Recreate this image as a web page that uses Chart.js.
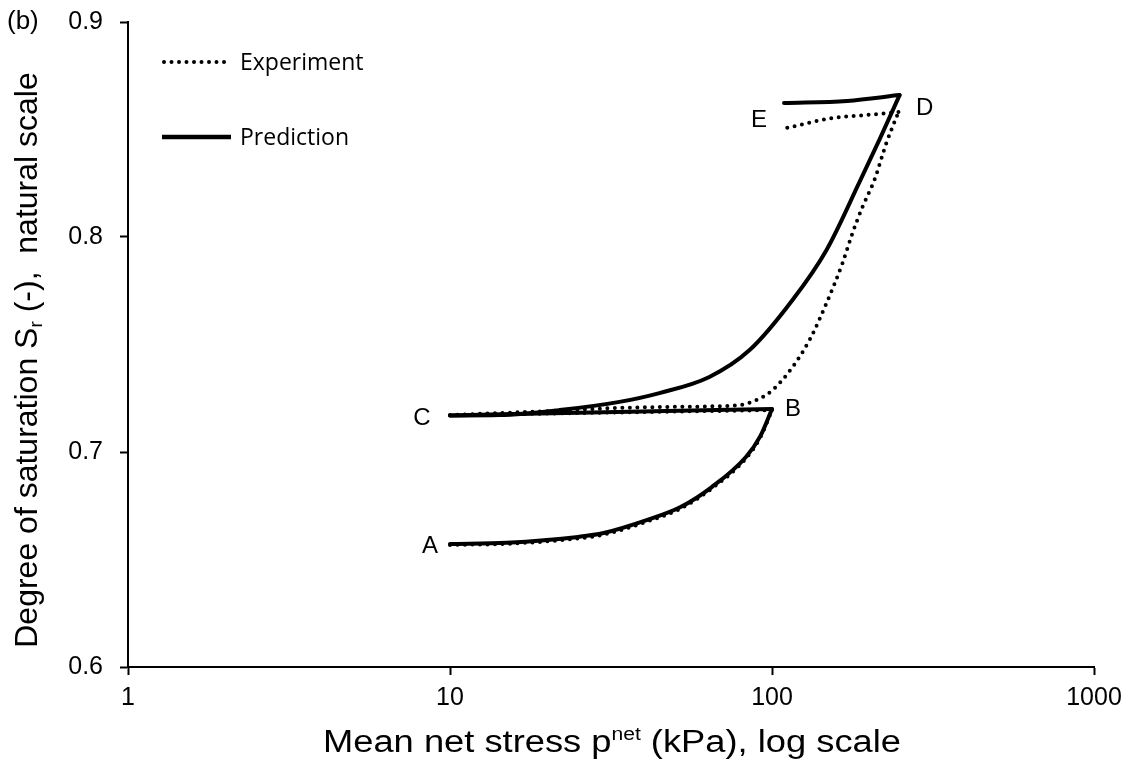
<!DOCTYPE html>
<html>
<head>
<meta charset="utf-8">
<script src="https://cdn.jsdelivr.net/npm/chart.js@4.4.1/dist/chart.umd.min.js"></script>
<style>
  html, body { margin: 0; padding: 0; background: #fff; }
  #wrap { width: 1132px; height: 764px; }
</style>
</head>
<body>
<div id="wrap"><canvas id="c" width="1132" height="764"></canvas></div>
<script>
// ---- Data ----
const xTickValues = [1, 10, 100, 1000];
const yTickValues = [0.6, 0.7, 0.8, 0.9];

// Prediction path A -> B -> C -> D -> E
const predX = [10, 15, 25, 30, 41, 52, 65, 83, 92, 100,
               30, 10,
               14.2, 21.9, 33.6, 44.7, 63.9, 85.2, 115.8, 147.7, 186.9, 216, 249,
               171, 109];
const predY = [0.6572, 0.6578, 0.6605, 0.6623, 0.6684, 0.6744, 0.6837, 0.6977, 0.7074, 0.7200,
               0.7185, 0.7170,
               0.7172, 0.7195, 0.7233, 0.7274, 0.7349, 0.7474, 0.7707, 0.7940, 0.8255, 0.8455, 0.8660,
               0.8633, 0.8623];
// index of the last point of each loading stage (B, C, D, E)
const predStageEnds = [9, 11, 22, 24];

// Experiment path A -> B -> C -> D -> E
const expX = [10, 15, 25, 30, 41, 52, 65, 83, 92, 100,
              10,
              20, 33.6, 44.7, 63.9, 80, 89.5, 100.4, 115.8, 130.8, 147.7, 165.6, 177.9, 191, 208, 226.6, 247,
              196, 154, 111];
const expY = [0.6568, 0.6573, 0.6598, 0.6616, 0.6677, 0.6737, 0.6830, 0.6970, 0.7068, 0.7195,
              0.7172,
              0.7190, 0.7205, 0.7209, 0.7212, 0.7219, 0.7242, 0.7288, 0.7395, 0.7521, 0.7693, 0.7879, 0.8019, 0.8140, 0.8265, 0.8437, 0.8581,
              0.8567, 0.8553, 0.8507];
const expStageEnds = [9, 10, 26, 29];

// Stage letters and the prediction point each one marks
const stageNames = ['A', 'B', 'C', 'D', 'E'];
const stagePredIndex = [0, 9, 11, 22, 24];

const seriesNames = ['Experiment', 'Prediction'];

// ---- Build chart ----
const FONT = "'Liberation Sans', Arial, sans-serif";

function stageDatasets(xs, ys, ends, style) {
  const out = [];
  let start = 0;
  ends.forEach(end => {
    const pts = [];
    for (let i = start; i <= end; i++) pts.push({ x: xs[i], y: ys[i] });
    out.push(Object.assign({ data: pts }, style));
    start = end;
  });
  return out;
}

const expStyle = {
  label: seriesNames[0],
  showLine: true,
  borderColor: '#000',
  borderWidth: 4,
  borderDash: [0, 7.5],
  borderCapStyle: 'round',
  pointRadius: 0,
  cubicInterpolationMode: 'monotone'
};
const predStyle = {
  label: seriesNames[1],
  showLine: true,
  borderColor: '#000',
  borderWidth: 4,
  borderJoinStyle: 'round',
  borderCapStyle: 'round',
  pointRadius: 0,
  cubicInterpolationMode: 'monotone'
};

const labelOffsets = [[-20, 2], [21, 0], [-28, 3], [25, 13], [-25, 17]];

const annotPlugin = {
  id: 'annot',
  afterDraw(chart) {
    const ctx = chart.ctx;
    const xs = chart.scales.x, ys = chart.scales.y;
    ctx.save();
    ctx.fillStyle = '#000';
    ctx.strokeStyle = '#000';

    // panel tag
    ctx.font = '26px ' + FONT;
    ctx.textAlign = 'left';
    ctx.textBaseline = 'middle';
    ctx.fillText('(b)', 7, 22);

    // legend
    ctx.lineCap = 'round';
    ctx.setLineDash([0, 7.5]);
    ctx.lineWidth = 4;
    ctx.beginPath(); ctx.moveTo(164, 62); ctx.lineTo(228, 62); ctx.stroke();
    ctx.setLineDash([]);
    ctx.lineCap = 'butt';
    ctx.lineWidth = 4.5;
    ctx.beginPath(); ctx.moveTo(162, 137); ctx.lineTo(231, 137); ctx.stroke();
    ctx.font = "23px 'Open Sans', sans-serif";
    ctx.fillText(seriesNames[0], 240, 63);
    ctx.fillText(seriesNames[1], 240, 138);

    // stage letters
    ctx.font = '24px ' + FONT;
    ctx.textAlign = 'center';
    stageNames.forEach((t, k) => {
      const i = stagePredIndex[k];
      const px = xs.getPixelForValue(predX[i]) + labelOffsets[k][0];
      const py = ys.getPixelForValue(predY[i]) + labelOffsets[k][1];
      ctx.fillText(t, px, py);
    });

    const measure = (p) => { ctx.font = p[1] + 'px ' + FONT; return ctx.measureText(p[0]).width; };

    // x-axis title with superscript
    const big = 31, small = 18;
    const parts = [
      ['Mean net stress p', big, 0],
      ['net', small, -12],
      [' (kPa), log scale', big, 0]
    ];
    const total = parts.reduce((s, p) => s + measure(p), 0);
    const targetW = 578;
    const sx = targetW / total;
    ctx.textAlign = 'left';
    ctx.textBaseline = 'alphabetic';
    ctx.save();
    ctx.translate(612 - targetW / 2, 752);
    ctx.scale(sx, 1);
    let x0 = 0;
    parts.forEach(p => {
      ctx.font = p[1] + 'px ' + FONT;
      ctx.fillText(p[0], x0, p[2]);
      x0 += ctx.measureText(p[0]).width;
    });
    ctx.restore();

    // y-axis title with subscript (rotated)
    const ybig = 32, ysmall = 19;
    const yparts = [
      ['Degree of saturation S', ybig, 0],
      ['r', ysmall, 5],
      [' (-),  natural scale', ybig, 0]
    ];
    const ytotal = yparts.reduce((s, p) => s + measure(p), 0);
    ctx.save();
    ctx.translate(37, 360);
    ctx.rotate(-Math.PI / 2);
    let y0 = -ytotal / 2;
    yparts.forEach(p => {
      ctx.font = p[1] + 'px ' + FONT;
      ctx.fillText(p[0], y0, p[2]);
      y0 += ctx.measureText(p[0]).width;
    });
    ctx.restore();
    ctx.restore();
  }
};

new Chart(document.getElementById('c'), {
  type: 'scatter',
  data: {
    datasets: [
      ...stageDatasets(expX, expY, expStageEnds, expStyle),
      ...stageDatasets(predX, predY, predStageEnds, predStyle)
    ]
  },
  options: {
    responsive: false,
    animation: false,
    layout: { padding: { left: 0, right: 38, top: 22, bottom: 0 } },
    plugins: { legend: { display: false }, tooltip: { enabled: false } },
    scales: {
      x: {
        type: 'logarithmic',
        min: 1, max: 1000,
        afterBuildTicks: (s) => { s.ticks = xTickValues.map(v => ({ value: v })); },
        afterFit: (s) => { s.height = 97; s.paddingLeft = 0; s.paddingRight = 0; },
        ticks: {
          color: '#000',
          font: { family: FONT, size: 25 },
          padding: 8,
          maxRotation: 0,
          autoSkip: false,
          callback: (v) => String(v)
        },
        grid: { drawOnChartArea: false, drawTicks: true, tickLength: 8, color: '#000', tickWidth: 2 },
        border: { display: true, color: '#000', width: 2 }
      },
      y: {
        type: 'linear',
        min: 0.6, max: 0.9,
        afterBuildTicks: (s) => { s.ticks = yTickValues.map(v => ({ value: v })); },
        afterFit: (s) => { s.width = 128; s.paddingTop = 0; s.paddingBottom = 0; },
        ticks: {
          color: '#000',
          font: { family: FONT, size: 25 },
          padding: 17,
          callback: (v) => Number(v).toFixed(1)
        },
        grid: { drawOnChartArea: false, drawTicks: true, tickLength: 8, color: '#000', tickWidth: 2 },
        border: { display: true, color: '#000', width: 2 }
      }
    }
  },
  plugins: [annotPlugin]
});
</script>
</body>
</html>
